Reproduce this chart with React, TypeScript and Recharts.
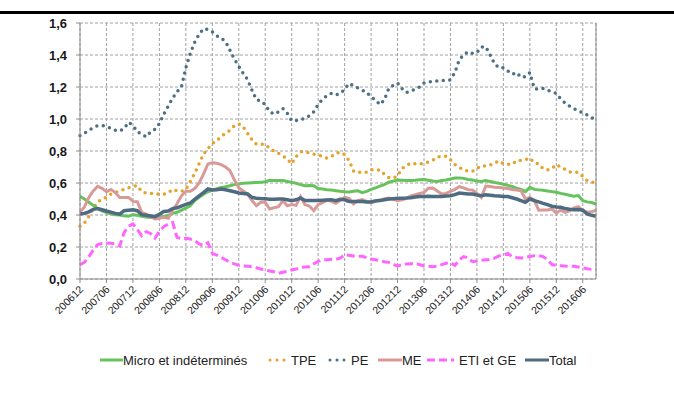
import { CartesianGrid, Line, LineChart, XAxis, YAxis } from "recharts";

// monthly, 200612 -> 201609
const START_YEAR = 2006;
const START_MONTH = 12;
const N_MONTHS = 118;

const months: string[] = [];
for (let i = 0; i < N_MONTHS; i++) {
  const m0 = START_MONTH - 1 + i;
  const y = START_YEAR + Math.floor(m0 / 12);
  const m = (m0 % 12) + 1;
  months.push(`${y}${m < 10 ? "0" + m : m}`);
}

const tickLabels = [
  "200612", "200706", "200712", "200806", "200812", "200906", "200912",
  "201006", "201012", "201106", "201112", "201206", "201212", "201306",
  "201312", "201406", "201412", "201506", "201512", "201606",
];

const yTicks = [0, 0.2, 0.4, 0.6, 0.8, 1.0, 1.2, 1.4, 1.6];

const micro = [
  0.517, 0.5, 0.48, 0.46, 0.44, 0.425, 0.415, 0.408, 0.402, 0.4, 0.395, 0.392,
  0.402, 0.398, 0.392, 0.388, 0.385, 0.386, 0.388, 0.39, 0.398, 0.41, 0.417, 0.43,
  0.443, 0.458, 0.49, 0.51, 0.53, 0.545, 0.556, 0.565, 0.572, 0.577, 0.583, 0.59,
  0.594, 0.598, 0.6, 0.602, 0.603, 0.604, 0.608, 0.617, 0.616, 0.615, 0.615, 0.61,
  0.604, 0.598, 0.59, 0.583, 0.584, 0.583, 0.565, 0.562, 0.558, 0.556, 0.552, 0.548,
  0.545, 0.544, 0.548, 0.552, 0.54, 0.548, 0.56, 0.57, 0.58, 0.59, 0.605, 0.612,
  0.619, 0.617, 0.615, 0.616, 0.617, 0.62, 0.622, 0.617, 0.612, 0.61, 0.615, 0.619,
  0.625, 0.631, 0.632, 0.629, 0.622, 0.619, 0.612, 0.61, 0.615, 0.61, 0.603, 0.598,
  0.592, 0.585, 0.578, 0.567, 0.56, 0.546, 0.573, 0.56, 0.557, 0.554, 0.55, 0.546,
  0.542, 0.535, 0.53, 0.524, 0.518, 0.522, 0.49, 0.482, 0.478, 0.469,
];

const tpe = [
  0.33, 0.35, 0.39, 0.44, 0.48, 0.5, 0.51, 0.53, 0.54, 0.55, 0.56, 0.57,
  0.578, 0.583, 0.545, 0.537, 0.535, 0.533, 0.53, 0.53, 0.54, 0.56, 0.55, 0.548,
  0.56, 0.61, 0.66, 0.72, 0.78, 0.815, 0.846, 0.865, 0.89, 0.91, 0.93, 0.958,
  0.97, 0.95, 0.91, 0.87, 0.842, 0.842, 0.842, 0.817, 0.8, 0.785, 0.77, 0.75,
  0.72, 0.765, 0.795, 0.795, 0.788, 0.78, 0.775, 0.765, 0.755, 0.765, 0.785, 0.792,
  0.777, 0.74, 0.675, 0.665, 0.67, 0.667, 0.683, 0.682, 0.681, 0.655, 0.635, 0.63,
  0.645, 0.69, 0.71, 0.725, 0.72, 0.717, 0.725, 0.73, 0.742, 0.762, 0.766, 0.767,
  0.745, 0.715, 0.696, 0.685, 0.673, 0.674, 0.69, 0.708, 0.706, 0.712, 0.725, 0.738,
  0.72, 0.718, 0.717, 0.74, 0.74, 0.745, 0.756, 0.727, 0.72, 0.69, 0.682, 0.69,
  0.715, 0.7, 0.685, 0.669, 0.669, 0.665, 0.64, 0.615, 0.606, 0.6,
];

const pe = [
  0.895, 0.91, 0.93, 0.945, 0.958, 0.958, 0.955, 0.94, 0.93, 0.925, 0.94, 0.98,
  0.96, 0.92, 0.905, 0.888, 0.92, 0.935, 0.97, 1.03, 1.08, 1.13, 1.17, 1.2,
  1.32, 1.41, 1.48, 1.53, 1.565, 1.56, 1.545, 1.52, 1.505, 1.485, 1.43, 1.375,
  1.33, 1.285, 1.246, 1.18, 1.12, 1.115, 1.09, 1.045, 1.03, 1.045, 1.065, 1.035,
  0.99, 0.99, 0.995, 1.005, 1.02, 1.045, 1.09, 1.125, 1.145, 1.16, 1.15, 1.16,
  1.185, 1.222, 1.21, 1.195, 1.18, 1.167, 1.135, 1.12, 1.09, 1.12, 1.19, 1.21,
  1.225, 1.19, 1.165, 1.175, 1.185, 1.2, 1.225, 1.232, 1.235, 1.237, 1.24, 1.242,
  1.245, 1.29, 1.37, 1.4, 1.42, 1.41, 1.415, 1.45, 1.452, 1.4, 1.345, 1.32,
  1.32, 1.3, 1.28, 1.29, 1.26, 1.265, 1.29, 1.19, 1.185, 1.19, 1.18, 1.17,
  1.16, 1.125, 1.1, 1.08, 1.065, 1.05, 1.04, 1.025, 1.01, 0.99,
];

const me = [
  0.417, 0.45, 0.51, 0.55, 0.579, 0.567, 0.546, 0.56, 0.54, 0.51, 0.51, 0.51,
  0.485, 0.483, 0.417, 0.405, 0.39, 0.375, 0.379, 0.385, 0.379, 0.43, 0.47, 0.52,
  0.548, 0.548, 0.565, 0.6, 0.656, 0.719, 0.727, 0.723, 0.715, 0.7, 0.677, 0.62,
  0.57, 0.55, 0.531, 0.49, 0.458, 0.479, 0.479, 0.4375, 0.445, 0.452, 0.49, 0.458,
  0.465, 0.46, 0.515, 0.465, 0.456, 0.427, 0.465, 0.477, 0.494, 0.485, 0.473, 0.49,
  0.51, 0.504, 0.469, 0.49, 0.496, 0.485, 0.479, 0.49, 0.494, 0.5, 0.506, 0.498,
  0.49, 0.495, 0.504, 0.52, 0.527, 0.535, 0.54, 0.567, 0.569, 0.55, 0.531, 0.535,
  0.548, 0.56, 0.577, 0.57, 0.558, 0.556, 0.535, 0.51, 0.581, 0.578, 0.573, 0.572,
  0.569, 0.565, 0.56, 0.556, 0.552, 0.5, 0.51, 0.494, 0.43, 0.431, 0.431, 0.4375,
  0.4125, 0.431, 0.417, 0.425, 0.445, 0.452, 0.427, 0.417, 0.42, 0.431,
];

const eti = [
  0.09, 0.104, 0.14, 0.18, 0.215, 0.222, 0.225, 0.224, 0.22, 0.206, 0.29, 0.33,
  0.344, 0.31, 0.27, 0.296, 0.285, 0.256, 0.298, 0.327, 0.344, 0.354, 0.26, 0.252,
  0.254, 0.25, 0.24, 0.219, 0.21, 0.227, 0.16, 0.15, 0.135, 0.12, 0.104, 0.095,
  0.085, 0.082, 0.08, 0.077, 0.07, 0.062, 0.058, 0.05, 0.045, 0.035, 0.042, 0.048,
  0.056, 0.062, 0.073, 0.075, 0.077, 0.095, 0.11, 0.119, 0.121, 0.123, 0.123, 0.13,
  0.152, 0.148, 0.144, 0.143, 0.142, 0.133, 0.125, 0.12, 0.115, 0.108, 0.104, 0.092,
  0.081, 0.09, 0.094, 0.096, 0.098, 0.09, 0.081, 0.079, 0.077, 0.08, 0.09, 0.098,
  0.104, 0.085, 0.12, 0.14, 0.131, 0.108, 0.112, 0.117, 0.12, 0.123, 0.13, 0.144,
  0.15, 0.16, 0.14, 0.135, 0.131, 0.135, 0.14, 0.145, 0.146, 0.14, 0.12, 0.09,
  0.085, 0.083, 0.081, 0.08, 0.079, 0.075, 0.069, 0.064, 0.06, 0.056,
];

const total = [
  0.406, 0.41, 0.42, 0.435, 0.44, 0.433, 0.425, 0.418, 0.41, 0.406, 0.427, 0.43,
  0.433, 0.427, 0.402, 0.398, 0.394, 0.39, 0.405, 0.422, 0.425, 0.44, 0.445, 0.456,
  0.466, 0.475, 0.498, 0.52, 0.54, 0.5625, 0.556, 0.558, 0.5625, 0.558, 0.552, 0.545,
  0.5375, 0.535, 0.531, 0.51, 0.505, 0.503, 0.502, 0.499, 0.498, 0.5, 0.5, 0.495,
  0.49, 0.495, 0.506, 0.49, 0.49, 0.49, 0.49, 0.492, 0.494, 0.496, 0.49, 0.498,
  0.495, 0.485, 0.485, 0.485, 0.484, 0.482, 0.481, 0.487, 0.49, 0.495, 0.5, 0.502,
  0.504, 0.505, 0.506, 0.508, 0.512, 0.515, 0.516, 0.517, 0.516, 0.515, 0.516, 0.518,
  0.52, 0.527, 0.537, 0.535, 0.531, 0.531, 0.525, 0.52, 0.527, 0.524, 0.52, 0.518,
  0.516, 0.515, 0.508, 0.5, 0.49, 0.479, 0.5, 0.49, 0.482, 0.473, 0.465, 0.455,
  0.45, 0.448, 0.44, 0.436, 0.433, 0.434, 0.43, 0.406, 0.398, 0.392,
];

const data = months.map((month, i) => ({
  month,
  micro: micro[i],
  tpe: tpe[i],
  pe: pe[i],
  me: me[i],
  eti: eti[i],
  total: total[i],
}));

const FONT = "'Liberation Sans', Arial, sans-serif";
const C_MICRO = "#66c25c";
const C_TPE = "#e6a229";
const C_PE = "#4d6f84";
const C_ME = "#d99a97";
const C_ETI = "#ff66ff";
const C_TOTAL = "#4f6b81";
const AXIS = "#8c8c8c";
const GRID = "#a0a0a0";

const fmt = (v: number) => v.toFixed(1).replace(".", ",");

function XTick({ x, y, payload }: { x?: number; y?: number; payload?: { value: string } }) {
  if (x === undefined || y === undefined || !payload) return null;
  return (
    <text
      x={x + 4}
      y={y + 7}
      transform={`rotate(-45, ${x + 4}, ${y + 7})`}
      textAnchor="end"
      fontSize={10.5}
      fontFamily={FONT}
      fill="#222"
    >
      {payload.value}
    </text>
  );
}

const legendItems = [
  { label: "Micro et indéterminés", color: C_MICRO, dash: undefined, cap: "butt", x: 100, w: 23, gap: 0 },
  { label: "TPE", color: C_TPE, dash: "0 7", cap: "round", x: 268, w: 18, gap: 5 },
  { label: "PE", color: C_PE, dash: "0 7", cap: "round", x: 328, w: 18, gap: 5 },
  { label: "ME", color: C_ME, dash: undefined, cap: "butt", x: 378, w: 24, gap: 0 },
  { label: "ETI et GE", color: C_ETI, dash: "8 4", cap: "butt", x: 427, w: 27, gap: 5 },
  { label: "Total", color: C_TOTAL, dash: undefined, cap: "butt", x: 525, w: 24, gap: 0 },
];

export default function App() {
  return (
    <div
      style={{
        position: "absolute",
        left: 0,
        top: 0,
        width: 674,
        height: 419,
        background: "#fff",
        fontFamily: FONT,
        overflow: "hidden",
      }}
    >
      <div style={{ position: "absolute", left: 0, top: 11, width: 674, height: 3, background: "#000" }} />
      <LineChart
        width={674}
        height={419}
        data={data}
        margin={{ top: 23, right: 38, bottom: 100, left: 40 }}
      >
        <CartesianGrid yAxisId="left" stroke={GRID} strokeDasharray="3 2" />
        <XAxis
          dataKey="month"
          ticks={tickLabels}
          interval={0}
          height={40}
          tickSize={4}
          tickMargin={0}
          stroke={AXIS}
          tick={<XTick />}
        />
        <YAxis
          yAxisId="left"
          width={40}
          domain={[0, 1.6]}
          ticks={yTicks}
          tickFormatter={fmt}
          tickSize={4}
          tickMargin={9}
          stroke={AXIS}
          tick={{ fill: "#1a1a1a", fontSize: 13, fontWeight: 700, fontFamily: FONT }}
        />
        <YAxis
          yAxisId="right"
          orientation="right"
          width={40}
          domain={[0, 1.6]}
          ticks={yTicks}
          tickFormatter={fmt}
          tickSize={3}
          tickMargin={8}
          stroke={AXIS}
          tick={{ fill: "#1a1a1a", fontSize: 13, fontWeight: 700, fontFamily: FONT }}
        />
        <Line yAxisId="left" type="linear" dataKey="pe" stroke={C_PE} strokeWidth={3.5}
          strokeDasharray="0 6.5" strokeLinecap="round" dot={false} activeDot={false} isAnimationActive={false} />
        <Line yAxisId="left" type="linear" dataKey="tpe" stroke={C_TPE} strokeWidth={3.5}
          strokeDasharray="0 6.5" strokeLinecap="round" dot={false} activeDot={false} isAnimationActive={false} />
        <Line yAxisId="left" type="linear" dataKey="eti" stroke={C_ETI} strokeWidth={3}
          strokeDasharray="8 4" dot={false} activeDot={false} isAnimationActive={false} />
        <Line yAxisId="left" type="linear" dataKey="micro" stroke={C_MICRO} strokeWidth={3}
          dot={false} activeDot={false} isAnimationActive={false} />
        <Line yAxisId="left" type="linear" dataKey="me" stroke={C_ME} strokeWidth={3}
          dot={false} activeDot={false} isAnimationActive={false} />
        <Line yAxisId="left" type="linear" dataKey="total" stroke={C_TOTAL} strokeWidth={3.5}
          dot={false} activeDot={false} isAnimationActive={false} />
      </LineChart>
      {legendItems.map((it) => (
        <div
          key={it.label}
          style={{
            position: "absolute",
            left: it.x,
            top: 351,
            height: 18,
            display: "flex",
            alignItems: "center",
            fontSize: 13,
            color: "#222",
            whiteSpace: "nowrap",
          }}
        >
          <svg width={it.w} height={6} style={{ marginRight: it.gap }}>
            <line
              x1={it.cap === "round" ? 2 : 0}
              y1={3}
              x2={it.w}
              y2={3}
              stroke={it.color}
              strokeWidth={3}
              strokeDasharray={it.dash}
              strokeLinecap={it.cap as "round" | "butt"}
            />
          </svg>
          {it.label}
        </div>
      ))}
    </div>
  );
}
